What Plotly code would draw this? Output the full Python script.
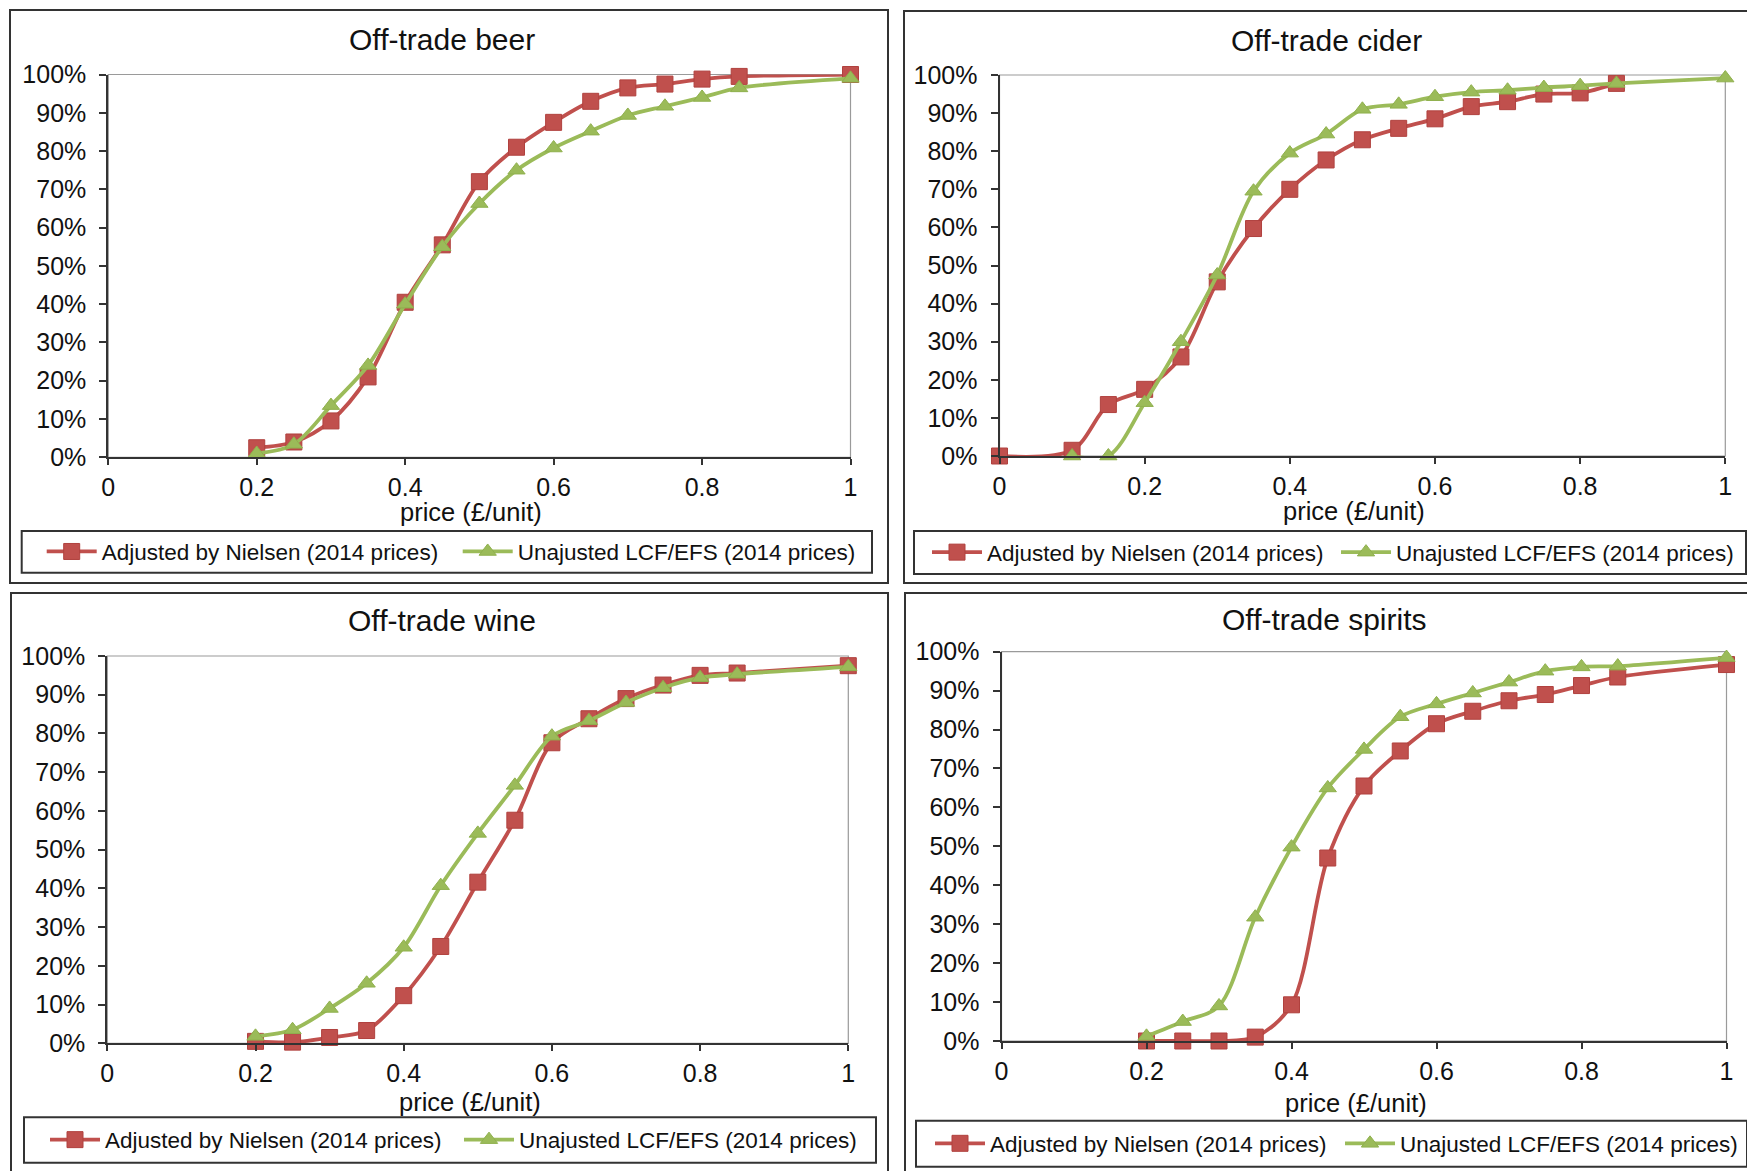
import plotly.graph_objects as go

# ---------------- data (percent of consumption at or below price) ----------------
price = [0.2, 0.25, 0.3, 0.35, 0.4, 0.45, 0.5, 0.55, 0.6, 0.65, 0.7, 0.75, 0.8, 0.85, 1.0]

beer_nielsen = [2.5, 4, 9.5, 21, 40.5, 55.5, 72, 81, 87.5, 93, 96.5, 97.5, 98.8, 99.5, 100]
beer_lcf = [1, 3.4, 13.5, 24, 40, 55, 66.3, 75, 80.8, 85.2, 89.3, 91.7, 94, 96.5, 99]

cider_price_nielsen = [0, 0.1, 0.15, 0.2, 0.25, 0.3, 0.35, 0.4, 0.45, 0.5, 0.55, 0.6, 0.65, 0.7, 0.75, 0.8, 0.85]
cider_nielsen = [0, 1.5, 13.5, 17.5, 26, 45.7, 59.7, 70, 77.7, 83, 86, 88.5, 91.7, 93, 95, 95.3, 97.8]
cider_price_lcf = [0.1, 0.15, 0.2, 0.25, 0.3, 0.35, 0.4, 0.45, 0.5, 0.55, 0.6, 0.65, 0.7, 0.75, 0.8, 0.85, 1.0]
cider_lcf = [0, 0, 14, 30, 47.5, 69.5, 79.5, 84.5, 91, 92.3, 94.3, 95.5, 96, 96.7, 97.2, 97.8, 99.2]

wine_nielsen = [0.5, 0.3, 1.5, 3.3, 12.3, 25, 41.6, 57.6, 77.6, 83.8, 89, 92.5, 95, 95.6, 97.5]
wine_lcf = [1.8, 3.5, 9, 15.5, 24.8, 40.7, 54.2, 66.6, 79.3, 83.3, 88, 91.8, 94.4, 95.3, 97.2]

spirits_nielsen = [0, 0, 0, 1, 9.3, 47, 65.5, 74.5, 81.5, 84.7, 87.4, 89, 91.3, 93.5, 96.7]
spirits_lcf = [1.2, 5, 9, 31.8, 49.8, 65, 74.9, 83.3, 86.6, 89.4, 92.2, 95, 96.1, 96.3, 98.5]

titles = ["Off-trade beer", "Off-trade cider", "Off-trade wine", "Off-trade spirits"]
series_names = ["Adjusted by Nielsen (2014 prices)", "Unajusted LCF/EFS (2014 prices)"]
x_title = "price (£/unit)"
y_ticks = [0, 10, 20, 30, 40, 50, 60, 70, 80, 90, 100]
y_ticklabels = ["0%", "10%", "20%", "30%", "40%", "50%", "60%", "70%", "80%", "90%", "100%"]

panel_data = [
    (price, beer_nielsen, price, beer_lcf),
    (cider_price_nielsen, cider_nielsen, cider_price_lcf, cider_lcf),
    (price, wine_nielsen, price, wine_lcf),
    (price, spirits_nielsen, price, spirits_lcf),
]

# ---------------- layout geometry (pixels in a 1747x1171 page) ----------------
W, H = 1747, 1171
def fx(p):
    return p / W
def fy(p):
    return 1 - p / H

panels = [
    dict(plot=(108.3, 850.5, 74.5, 457.3), border=(10, 10, 888, 583),
         lbox=(21.7, 531, 872, 572.7), ltext=101.7, lpitch=416,
         title=(442, 39), axt_y=511.7),
    dict(plot=(999.5, 1725.3, 75, 456), border=(904, 11, 1760, 583),
         lbox=(914, 531, 1746, 574), ltext=987, lpitch=409,
         title=(1326, 40), axt_y=511),
    dict(plot=(107.3, 848.3, 656, 1043.3), border=(11, 593, 888, 1185),
         lbox=(24, 1117.3, 876, 1162.7), ltext=105, lpitch=414,
         title=(442, 620), axt_y=1101.7),
    dict(plot=(1001.5, 1726.5, 651.7, 1041), border=(905, 593, 1760, 1185),
         lbox=(916, 1120.7, 1747, 1166.7), ltext=990, lpitch=410,
         title=(1324, 619), axt_y=1103),
]

RED = "#C0504D"
GREEN = "#9BBB59"
DARK = "#333333"
FONT = "Liberation Sans, Arial, sans-serif"
TXT = "#111111"
ITEMW = 50

fig = go.Figure()
layout = dict(
    width=W, height=H,
    margin=dict(l=0, r=0, t=0, b=0, pad=0, autoexpand=False),
    paper_bgcolor="white", plot_bgcolor="white",
    font=dict(family=FONT, color=TXT),
    shapes=[], annotations=[],
)

for i, (pn, (xr, yr, xg, yg)) in enumerate(zip(panels, panel_data)):
    k = "" if i == 0 else str(i + 1)
    xa, ya = "x" + k, "y" + k
    lg = "legend" + k
    x0, x1, ytop, ybot = pn["plot"]

    fig.add_trace(go.Scatter(
        x=xr, y=yr, name=series_names[0], xaxis=xa, yaxis=ya, legend=lg,
        mode="lines+markers", cliponaxis=False,
        line=dict(color=RED, width=3.8, shape="spline", smoothing=0.9),
        marker=dict(symbol="square", size=16, color=RED, line=dict(color="#b0413e", width=1)),
    ))
    fig.add_trace(go.Scatter(
        x=xg, y=yg, name=series_names[1], xaxis=xa, yaxis=ya, legend=lg,
        mode="lines+markers", cliponaxis=False,
        line=dict(color=GREEN, width=3.8, shape="spline", smoothing=0.9),
        marker=dict(symbol="triangle-up", size=15, color=GREEN, line=dict(color="#8fb04d", width=1)),
    ))

    layout["xaxis" + k] = dict(
        domain=[fx(x0), fx(x1)], anchor=ya, range=[0, 1], tick0=0, dtick=0.2,
        showline=True, linecolor=DARK, linewidth=2, mirror=False,
        ticks="outside", ticklen=6, tickwidth=1.5, tickcolor=DARK,
        showgrid=False, zeroline=False, tickfont=dict(size=25, color=TXT, family=FONT),
        ticklabelstandoff=1, fixedrange=True, automargin=False,
    )
    layout["yaxis" + k] = dict(
        domain=[fy(ybot), fy(ytop)], anchor=xa, range=[0, 100],
        tickmode="array", tickvals=y_ticks, ticktext=y_ticklabels,
        showline=True, linecolor=DARK, linewidth=2, mirror=False,
        ticks="outside", ticklen=7, tickwidth=1.5, tickcolor=DARK,
        showgrid=False, zeroline=False, tickfont=dict(size=25, color=TXT, family=FONT),
        ticklabelstandoff=8, fixedrange=True, automargin=False,
    )

    # plot-area frame (light grey top/right edges)
    layout["shapes"].append(dict(
        type="rect", xref=xa + " domain", yref=ya + " domain", x0=0, x1=1, y0=0, y1=1,
        line=dict(color="#9a9a9a", width=1.2), layer="below"))
    # panel (chart area) border
    bx0, by0, bx1, by1 = pn["border"]
    layout["shapes"].append(dict(
        type="rect", xref="paper", yref="paper",
        x0=fx(bx0), x1=fx(bx1), y0=fy(by1), y1=fy(by0),
        line=dict(color=DARK, width=2), layer="below"))
    # legend box
    lx0, ly0, lx1, ly1 = pn["lbox"]
    layout["shapes"].append(dict(
        type="rect", xref="paper", yref="paper",
        x0=fx(lx0), x1=fx(lx1), y0=fy(ly1), y1=fy(ly0),
        line=dict(color=DARK, width=2), layer="below"))

    layout[lg] = dict(
        orientation="h", x=fx(pn["ltext"] - (ITEMW + 10)), xanchor="left",
        y=fy((ly0 + ly1) / 2), yanchor="middle",
        bgcolor="rgba(0,0,0,0)", borderwidth=0, itemwidth=ITEMW,
        font=dict(size=22.5, color=TXT, family=FONT),
        entrywidth=pn["lpitch"] - (ITEMW + 15), entrywidthmode="pixels",
        itemclick=False, itemdoubleclick=False,
    )

    tx, ty = pn["title"]
    layout["annotations"].append(dict(
        text=titles[i], xref="paper", yref="paper", x=fx(tx), y=fy(ty),
        xanchor="center", yanchor="middle", showarrow=False,
        font=dict(size=30, color=TXT, family=FONT)))
    layout["annotations"].append(dict(
        text=x_title, xref="paper", yref="paper", x=fx((x0 + x1) / 2 - 8), y=fy(pn["axt_y"]),
        xanchor="center", yanchor="middle", showarrow=False,
        font=dict(size=25.5, color=TXT, family=FONT)))

fig.update_layout(**layout)
fig.write_html(
    "out.html",
    config={"displayModeBar": False},
    post_script="document.body.style.margin='0';document.body.style.overflow='hidden';",
)
